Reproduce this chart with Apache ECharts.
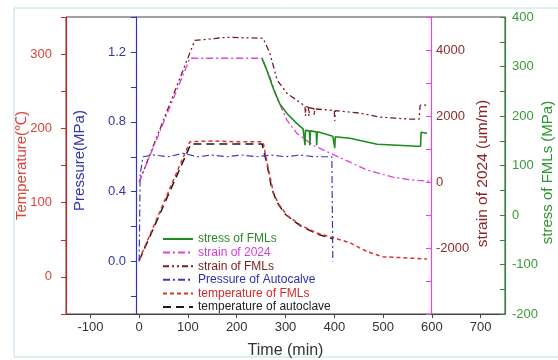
<!DOCTYPE html>
<html>
<head>
<meta charset="utf-8">
<script src="https://cdn.jsdelivr.net/npm/echarts@6/dist/echarts.min.js"></script>
<style>
html, body { margin: 0; padding: 0; background: #fff; }
#main { width: 558px; height: 360px; }
</style>
</head>
<body>
<div id="main"></div>
<script>
// time (min) / value pairs
const stressFMLs = [[252,316],[262,292],[274,258],[288,225],[303,205],[323,185],[336,174],[339,172],[340,141],[341,171],[349,170],[350,141],[351,170],[363,168],[364,141],[365,168],[380,164],[397,159],[400,158],[401,135],[402,158],[432,155],[460,149],[488,143],[530,141],[570,139],[577,139],[578,167],[582,169],[590,165]]
const strain2024 = [[0,0],[104,3750],[150,3750],[200,3750],[252,3750],[268,3175],[282,2570],[303,1875],[323,1480],[356,1120],[391,877],[432,605],[467,363],[520,150],[560,60],[598,20]]
const strainFMLs = [[0,0],[114,4290],[180,4385],[254,4355],[268,3900],[283,3084],[303,2690],[323,2480],[340,2300],[341,2000],[342,2290],[347,2260],[348,2000],[349,2250],[358,2220],[359,2020],[360,2215],[391,2177],[400,2170],[401,1850],[402,2165],[453,2086],[494,1966],[555,1905],[574,1905],[576,2328],[590,2330]]
const pressure = [[0,0],[2,0.5],[8,0.6],[30,0.61],[60,0.6],[90,0.62],[120,0.6],[150,0.61],[180,0.6],[210,0.61],[240,0.6],[270,0.61],[300,0.6],[330,0.61],[360,0.6],[395,0.6],[397,0]]
const tempFMLs = [[0,23],[104,182],[150,183],[200,182],[254,182],[264,148],[275,114],[285,99],[303,83],[330,70],[364,59],[391,54],[397,53],[432,46],[467,34],[500,27],[535,26],[590,24]]
const tempAutoclave = [[0,22],[106,179],[150,179],[200,179],[252,179],[262,152],[272,118],[283,100],[300,84],[330,69],[364,58],[397,51]]

const xTicks = [-100, 0, 100, 200, 300, 400, 500, 600, 700]
const pressureLabels = [0, 0.4, 0.8, 1.2]
const pressureTicks = [-0.2, 0, 0.2, 0.4, 0.6, 0.8, 1.0, 1.2, 1.4]

const font = 'Liberation Sans, Arial, sans-serif'

function yAx(o) {
    return Object.assign({
        type: 'value',
        splitLine: { show: false },
        axisLine: { show: true, onZero: false, lineStyle: { color: o.color, width: 1.2 } },
        axisTick: { show: true, length: 5, inside: o.inside, lineStyle: { color: o.color } },
        nameLocation: 'middle',
        nameRotate: 90,
        nameMoveOverlap: false,
    }, o.extra)
}

function lineSeries(name, yIdx, data, color, width, dash) {
    return {
        name: name, type: 'line', yAxisIndex: yIdx, data: data,
        showSymbol: false, symbol: 'none',
        lineStyle: { color: color, width: width, type: dash },
        itemStyle: { color: color }
    }
}

const option = {
    animation: false,
    backgroundColor: '#fff',
    textStyle: { fontFamily: font },
    grid: { left: 66, right: 53, top: 17, bottom: 46, outerBoundsMode: 'none',
            show: true, borderColor: '#444', borderWidth: 1 },
    graphic: [{
        type: 'rect', silent: true, z: -1,
        shape: { x: 14, y: 8, width: 600, height: 349 },
        style: { fill: 'none', stroke: '#b8dfe8', lineWidth: 1 }
    }],
    legend: {
        orient: 'vertical',
        left: 157, top: 228,
        itemWidth: 30, itemHeight: 12, itemGap: 1.6,
        itemStyle: { opacity: 0 },
        textStyle: { fontSize: 12, fontFamily: font },
        data: [
            { name: 'stress of FMLs', textStyle: { color: '#2a8a2a' } },
            { name: 'strain of 2024', textStyle: { color: '#d640d6' } },
            { name: 'strain of FMLs', textStyle: { color: '#7a1c1c' } },
            { name: 'Pressure of Autocalve', textStyle: { color: '#2f2fb0' } },
            { name: 'temperature of FMLs', textStyle: { color: '#d62a2a' } },
            { name: 'temperature of autoclave', textStyle: { color: '#222' } },
        ]
    },
    xAxis: {
        type: 'value', min: -150, max: 750,
        name: 'Time (min)', nameLocation: 'middle', nameGap: 29,
        nameTextStyle: { fontSize: 16, color: '#333' },
        splitLine: { show: false },
        axisLine: { onZero: false, lineStyle: { color: '#444', width: 1.2 } },
        axisTick: { customValues: xTicks, length: 4, lineStyle: { color: '#444' } },
        axisLabel: { customValues: xTicks, fontSize: 13, color: '#333', margin: 7 }
    },
    yAxis: [
        yAx({ color: '#c32b2b', inside: false, extra: {
            position: 'left', min: -50, max: 350, interval: 50,
            name: 'Temperature(℃)', nameGap: 37,
            nameTextStyle: { fontSize: 15, color: '#d8433a' },
            axisLabel: { fontSize: 13, color: '#d8433a', margin: 14,
                formatter: v => (v % 100 === 0 && v >= 0 && v <= 300) ? String(v) : '' }
        } }),
        yAx({ color: '#3333b8', inside: false, extra: {
            position: 'left', offset: -70, min: -0.3, max: 1.4,
            name: 'Pressure(MPa)', nameGap: 49,
            nameTextStyle: { fontSize: 15, color: '#3333b0', padding: [0, 0, 0, 10] },
            axisTick: { show: true, length: 5, customValues: pressureTicks, lineStyle: { color: '#3333b8' } },
            axisLabel: { fontSize: 13, color: '#3535a8', margin: 10, customValues: pressureLabels,
                formatter: v => v.toFixed(1) }
        } }),
        yAx({ color: '#e048e0', inside: true, extra: {
            position: 'right', offset: -74, min: -4000, max: 5000, interval: 1000,
            name: 'strain of 2024 (um/m)', nameGap: 44,
            nameTextStyle: { fontSize: 15.5, color: '#8b2525', padding: [0, 16, 0, 0] },
            axisLabel: { fontSize: 13, color: '#8b2e2e', margin: 5,
                formatter: v => (v % 2000 === 0 && v >= -2000 && v <= 4000) ? String(v) : '' }
        } }),
        yAx({ color: '#2e8b2e', inside: true, extra: {
            position: 'right', min: -200, max: 400, interval: 50,
            name: 'stress of FMLs (MPa)', nameGap: 35,
            nameTextStyle: { fontSize: 15, color: '#2f962f', padding: [0, 14, 0, 0] },
            axisLabel: { fontSize: 13, color: '#3a9a3a', margin: 7,
                formatter: v => v % 100 === 0 ? String(v) : '' }
        } }),
    ],
    series: [
        lineSeries('temperature of autoclave', 0, tempAutoclave, '#1a1a1a', 1.5, [8, 5]),
        lineSeries('temperature of FMLs', 0, tempFMLs, '#e03030', 1.5, [4, 3]),
        lineSeries('Pressure of Autocalve', 1, pressure, '#3a3ac0', 1.2, [7, 3, 2, 3]),
        lineSeries('strain of FMLs', 2, strainFMLs, '#7a1c1c', 1.3, [6, 3, 2, 3, 2, 3]),
        lineSeries('strain of 2024', 2, strain2024, '#e040e0', 1.3, [7, 3, 2, 3]),
        lineSeries('stress of FMLs', 3, stressFMLs, '#1e8c1e', 1.6, 'solid'),
    ]
}

const chart = echarts.init(document.getElementById('main'))
chart.setOption(option)
window.onresize = function () {
    chart.resize()
}
</script>
</body>
</html>
